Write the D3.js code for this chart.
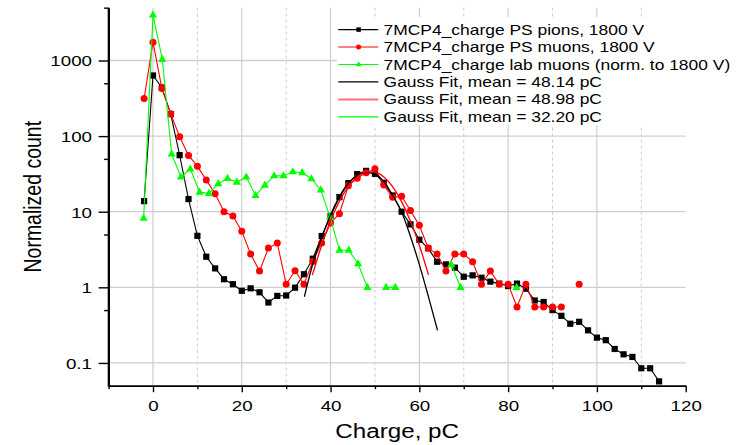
<!DOCTYPE html>
<html><head><meta charset="utf-8">
<script src="https://cdn.jsdelivr.net/npm/d3@7"></script>
<style>
html,body{margin:0;padding:0;background:#fff;}
svg{display:block;font-family:"Liberation Sans",Arial,sans-serif;}
</style></head>
<body>
<svg id="chart" width="750" height="445"></svg>
<script>
// ---------- data ----------
const pionX = [-2,0,2,4,6,8,10,12,14,16,18,20,22,24,26,28,30,32,34,36,38,40,42,44,46,48,50,52,54,56,58,60,62,64,66,68,70,72,74,76,78,80,82,84,86,88,90,92,94,96,98,100,102,104,106,108,110,112,114];
const pionY = [13.8,634,440,195,56,14.7,4.8,2.54,1.78,1.28,1.1,0.90,0.97,0.86,0.63,0.77,0.78,0.99,1.49,2.39,4.77,8.8,15.6,23.9,31.4,34.7,31.7,24.1,16.4,10,6.8,4.26,3.28,2.18,2.01,1.82,1.38,1.44,1.34,1.19,1.12,1.04,1.12,0.96,0.67,0.64,0.50,0.42,0.33,0.35,0.27,0.216,0.20,0.153,0.13,0.12,0.085,0.085,0.057];

const psMuonX = [-2,0,2,4,6,8,10,12,14,16,18,20,22,24,26,28,30,32,34,36,38,40,42,44,46,48,50,52,54,56,58,60,62,64,66,68,70,72,74,76,78,80,82,84,86,88,90,92,94,96];
const psMuonY = [315,1745,427,197,98,55.6,40,26.2,17.3,10,8.8,5.5,2.75,1.64,3.3,3.85,1.1,1.66,1.1,2.2,3.85,7.1,9.4,22,27.8,32.7,36.9,22.5,15.5,16,10.4,6.6,3.3,2.75,1.64,2.75,2.75,2.18,1.1,1.64,1.1,1.1,0.55,1.1,0.55,0.55,0.55,0.55,null,1.1];

const labMuonX = [-2.1,0,2.1,4.2,6.3,8.4,10.5,12.6,14.7,16.8,18.9,21.0,23.1,25.2,27.3,29.4,31.5,33.6,35.7,37.8,39.9,42.0,44.1,46.2,48.3,50.4,52.5,54.6,56.7,65.1,67.2,69.3,71.4,81.9];
const labMuonY = [8.2,4000,1037,58,28.8,36.7,18.2,17.5,23.5,27.6,24.7,28.8,16.5,22.5,29.9,29.9,33.8,32.8,27.3,19.4,8.5,3.1,3.1,2.05,1.0,null,1.0,1.0,null,null,2.0,1.0,null,1.0];

const fitPionX = [34.1,36,38,40,42,44,46,48,50,52,54,56,58,60,62,64.1];
const fitPionY = [0.75,2.05,4.5,9.1,15.9,23.8,30,33,31.5,25,16.5,10,4.7,2.0,0.77,0.27];
const fitPsMuonX = [35.9,38,40,42,44,46,48,50,52,54,56,58,60,62.05];
const fitPsMuonY = [1.45,3.6,7.6,13.8,21.4,28.8,33.4,33.3,28.7,21.3,13.6,7.5,3.6,1.46];

const xMajorTicks = [0,20,40,60,80,100,120];
const xMinorTicks = [-10,10,30,50,70,90,110];
const yMajorTicks = [0.1,1,10,100,1000];
const yMinorTicks = [0.5,5,50,500,5000];
const yTickLabels = ["0.1","1","10","100","1000"];

const legendLabels = [
  "7MCP4_charge PS pions, 1800 V",
  "7MCP4_charge PS muons, 1800 V",
  "7MCP4_charge lab muons (norm. to 1800 V)",
  "Gauss Fit, mean = 48.14 pC",
  "Gauss Fit, mean = 48.98 pC",
  "Gauss Fit, mean = 32.20 pC"
];

// ---------- layout ----------
const SX = 1.21; // horizontal text stretch seen in the reference
const GREEN = "#00ff00";
const svg = d3.select("#chart");
const x = d3.scaleLinear().domain([-10,120]).range([108.6,685.7]);
const y = d3.scaleLog().domain([0.05,5000]).range([385.7,7.65]);
const x0 = x.range()[0], x1 = x.range()[1], yB = y.range()[0], yT = y.range()[1];

// gridlines
const grid = svg.append("g");
grid.selectAll(".vg").data(xMajorTicks.filter(d=>d>-10 && d<120)).join("line")
  .attr("x1",d=>x(d)).attr("x2",d=>x(d)).attr("y1",yT).attr("y2",yB)
  .attr("stroke","#c4c4c4").attr("stroke-width",1);
grid.selectAll(".vgm").data(xMinorTicks.filter(d=>d>-10)).join("line")
  .attr("x1",d=>x(d)).attr("x2",d=>x(d)).attr("y1",yT).attr("y2",yB)
  .attr("stroke","#cccccc").attr("stroke-width",1).attr("stroke-dasharray","3,3");
grid.selectAll(".hg").data(yMajorTicks).join("line")
  .attr("x1",x0).attr("x2",x1).attr("y1",d=>y(d)).attr("y2",d=>y(d))
  .attr("stroke","#cfcfcf").attr("stroke-width",1.3);

// series drawing helpers
const plot = svg.append("g");
function series(xs, ys, color, marker){
  const pts = xs.map((v,i)=>({x:v,y:ys[i]}));
  const line = d3.line().defined(d=>d.y!=null).x(d=>x(d.x)).y(d=>y(d.y));
  plot.append("path").datum(pts).attr("d",line).attr("fill","none")
    .attr("stroke",color).attr("stroke-width",1.1);
  const g = plot.append("g").attr("fill",color);
  pts.filter(d=>d.y!=null).forEach(d=>drawMarker(g, marker, x(d.x), y(d.y), 1));
}
function drawMarker(g, type, cx, cy, s){
  if(type==="square"){
    const h = 3.1*s;
    g.append("rect").attr("x",cx-h).attr("y",cy-h).attr("width",2*h).attr("height",2*h);
  } else if(type==="circle"){
    g.append("circle").attr("cx",cx).attr("cy",cy).attr("r",3.5*s);
  } else {
    g.append("path").attr("d",`M${cx},${cy-4.6*s}L${cx+4.1*s},${cy+2.6*s}L${cx-4.1*s},${cy+2.6*s}Z`);
  }
}
series(pionX, pionY, "#000000", "square");
series(psMuonX, psMuonY, "#ff0000", "circle");
series(labMuonX, labMuonY, GREEN, "triangle");

function fit(xs, ys, color){
  const pts = xs.map((v,i)=>({x:v,y:ys[i]}));
  plot.append("path").datum(pts)
    .attr("d", d3.line().curve(d3.curveMonotoneX).x(d=>x(d.x)).y(d=>y(d.y)))
    .attr("fill","none").attr("stroke",color).attr("stroke-width",1.3);
}
fit(fitPionX, fitPionY, "#000000");
fit(fitPsMuonX, fitPsMuonY, "#ff0000");

// axes
const axes = svg.append("g").attr("font-family","'Liberation Sans',Arial,sans-serif");
const yAxisMajor = axes.append("g").attr("transform",`translate(${x0},0)`)
  .call(d3.axisLeft(y).tickValues(yMajorTicks).tickSize(10).tickSizeOuter(0)
    .tickFormat((d,i)=>yTickLabels[i]));
const yAxisMinor = axes.append("g").attr("transform",`translate(${x0},0)`)
  .call(d3.axisLeft(y).tickValues(yMinorTicks).tickSize(4.5).tickSizeOuter(0).tickFormat(""));
const xAxisMajor = axes.append("g").attr("transform",`translate(0,${yB})`)
  .call(d3.axisBottom(x).tickValues(xMajorTicks).tickSize(6.5).tickSizeOuter(0).tickFormat(d3.format("d")));
const xAxisMinor = axes.append("g").attr("transform",`translate(0,${yB})`)
  .call(d3.axisBottom(x).tickValues(xMinorTicks).tickSize(3.5).tickSizeOuter(0).tickFormat(""));
[yAxisMajor,yAxisMinor,xAxisMajor,xAxisMinor].forEach(a=>{
  a.selectAll(".domain").attr("stroke","#000").attr("stroke-width",1.8);
  a.selectAll(".tick line").attr("stroke","#000").attr("stroke-width",1.4);
});
yAxisMajor.select(".domain").attr("d",`M0,${yB+0.9}V${yT}`);
xAxisMajor.select(".domain").attr("d",`M${x0-1}.5,0H${x1}`);
yAxisMajor.selectAll(".tick text")
  .attr("x",null).attr("dy","0.35em").attr("font-size",15.5).attr("fill","#000")
  .attr("text-anchor","end")
  .attr("transform",`translate(-16.6,0) scale(${SX},1)`);
xAxisMajor.selectAll(".tick text")
  .attr("y",null).attr("dy",null).attr("font-size",15.5).attr("fill","#000")
  .attr("transform",`translate(0,24.8) scale(${SX},1)`);

// axis titles
svg.append("text").attr("font-size",20).attr("text-anchor","middle")
  .attr("transform",`translate(${(x0+x1)/2+0},437.5) scale(${SX},1)`)
  .text("Charge, pC");
svg.append("text").attr("font-size",19.5).attr("text-anchor","middle")
  .attr("transform",`translate(40.5,196.7) rotate(-90) scale(1,${SX})`)
  .text("Normalized count");

// legend
const leg = svg.append("g");
leg.append("rect").attr("x",337).attr("y",17).attr("width",413).attr("height",108).attr("fill","#fff");
const legStyles = [
  {c:"#000",m:"square",w:1.1},{c:"#ff0000",m:"circle",w:1.1},{c:GREEN,m:"triangle",w:1.1},
  {c:"#000",m:null,w:1.3},{c:"#ff7070",m:null,w:2},{c:GREEN,m:null,w:1.3}
];
legendLabels.forEach((lab,i)=>{
  const cy = 29.6 + i*17.45;
  const st = legStyles[i];
  leg.append("line").attr("x1",338.3).attr("x2",378.3).attr("y1",cy).attr("y2",cy)
    .attr("stroke",st.c).attr("stroke-width",st.w);
  if(st.m){ const g = leg.append("g").attr("fill",st.c); drawMarker(g, st.m, 358.6, cy, 0.72); }
  leg.append("text").attr("font-size",14).attr("dy","0.36em")
    .attr("transform",`translate(383.6,${cy}) scale(1.245,1)`).text(lab);
});
</script>
</body></html>
